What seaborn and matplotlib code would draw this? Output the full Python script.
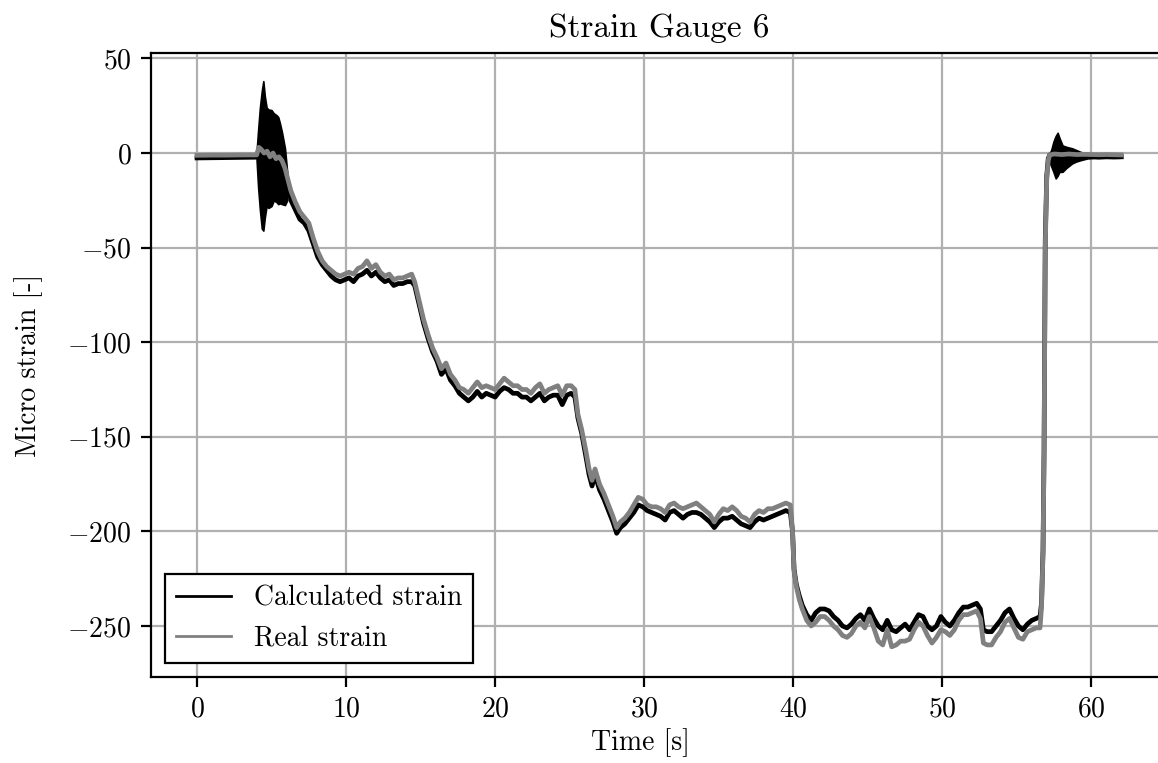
import matplotlib
matplotlib.use("Agg")
import matplotlib.pyplot as plt
import seaborn as sns
import numpy as np
import pandas as pd

# ---------------- data ----------------
time_s = [0.0, 1.0, 2.0, 3.0, 4.0,
          4.15, 4.3, 4.5, 4.7, 4.9, 5.1, 5.3, 5.5, 5.7, 5.9, 6.1,
          6.3, 6.6, 6.9, 7.2, 7.5, 7.8, 8.1, 8.4, 8.7, 9.0, 9.3, 9.6, 9.9,
          10.2, 10.5, 10.8, 11.1, 11.4, 11.7, 12.0, 12.3, 12.6, 12.9, 13.2, 13.5, 13.8, 14.1, 14.4,
          14.6, 14.9, 15.2, 15.5, 15.8, 16.1, 16.4, 16.7, 17.0, 17.3, 17.6,
          17.9, 18.2, 18.5, 18.8, 19.1, 19.4, 19.7, 20.0, 20.3, 20.6, 20.9, 21.2, 21.5, 21.8, 22.1,
          22.4, 22.7, 23.0, 23.3, 23.6, 23.9, 24.2, 24.5, 24.8, 25.1, 25.35,
          25.55, 25.8, 26.1, 26.3, 26.5, 26.7, 27.0, 27.3, 27.6, 27.9, 28.15,
          28.4, 28.7, 29.0, 29.3, 29.6, 29.9, 30.2, 30.5, 30.8, 31.1, 31.4, 31.7, 32.0, 32.3, 32.6,
          32.9, 33.2, 33.5, 33.8, 34.1, 34.4, 34.7, 35.0, 35.3, 35.6, 35.9, 36.2, 36.5, 36.8, 37.1,
          37.4, 37.7, 38.0, 38.3, 38.6, 38.9, 39.2, 39.5, 39.8,
          39.95, 40.05, 40.2, 40.4, 40.6, 40.9, 41.2,
          41.5, 41.8, 42.1, 42.4, 42.7, 43.0, 43.3, 43.6, 43.9, 44.2, 44.5, 44.8, 45.1, 45.4, 45.7,
          46.0, 46.3, 46.6, 46.9, 47.2, 47.5, 47.8, 48.1, 48.4, 48.7, 49.0, 49.3, 49.6, 49.9, 50.2,
          50.5, 50.8, 51.1, 51.4, 51.7, 52.0, 52.3, 52.55, 52.75, 53.0, 53.3, 53.6, 53.9, 54.2, 54.5,
          54.8, 55.1, 55.4, 55.7, 56.0, 56.3, 56.55,
          56.65, 56.75, 56.82, 56.9, 57.0, 57.1, 57.2,
          57.5, 58.0, 58.5, 59.0, 59.5, 60.0, 60.5, 61.0, 61.5, 62.0]

calculated_strain = [-2.6, -2.5, -2.4, -2.3, -2.2,
                     2, 1, -1, 0, -3, -1, -4, -3, -5, -9, -16,
                     -25, -30, -35, -37, -41, -48, -55, -59, -62, -65, -67, -68, -67,
                     -66, -68, -65, -64, -62, -65, -63, -66, -68, -67, -70, -69, -69, -68, -68,
                     -70, -80, -90, -98, -105, -110, -117, -114, -120, -123, -127,
                     -129, -131, -129, -126, -129, -127, -128, -129, -126, -124, -125, -127, -127, -129, -129,
                     -131, -129, -127, -131, -129, -128, -128, -133, -128, -127, -129,
                     -140, -148, -161, -170, -176, -170, -178, -183, -189, -195, -201,
                     -198, -196, -193, -190, -186, -187, -189, -190, -191, -192, -194, -190, -189, -191, -193,
                     -191, -190, -190, -191, -193, -195, -198, -195, -193, -193, -192, -194, -196, -197, -198,
                     -195, -193, -194, -193, -192, -191, -190, -189, -190,
                     -200, -220, -228, -234, -239, -244, -247,
                     -243, -241, -241, -242, -245, -247, -250, -251, -249, -246, -244, -247, -241, -246, -250,
                     -252, -247, -252, -253, -251, -249, -252, -248, -244, -245, -250, -252, -250, -245, -248,
                     -250, -247, -243, -240, -240, -239, -238, -241, -252, -253, -253, -250, -247, -243, -241,
                     -246, -250, -252, -249, -247, -246, -245,
                     -238, -210, -157, -46, -12, -3, -1,
                     -1.5, -2, -1.5, -2, -2, -2, -2.2, -2, -2.1, -2]

real_strain = [-1.2, -1.1, -1.1, -1.0, -1.0,
               3, 2, 0, 1, -2, 0, -3, -2, -4, -8, -14,
               -20, -26, -31, -34, -37, -45, -52, -57, -60, -62, -64, -65, -64,
               -63, -64, -61, -60, -57, -61, -59, -63, -65, -64, -67, -66, -66, -65, -64,
               -68, -78, -88, -96, -103, -108, -114, -111, -117, -120, -124,
               -125, -127, -124, -121, -124, -123, -124, -125, -122, -119, -121, -123, -123, -125, -125,
               -127, -124, -122, -127, -125, -124, -123, -128, -123, -123, -125,
               -138, -146, -158, -167, -173, -167, -175, -180, -186, -192, -198,
               -195, -193, -190, -186, -182, -183, -186, -187, -187, -188, -190, -186, -185, -187, -188,
               -187, -186, -185, -187, -189, -191, -195, -191, -188, -189, -187, -189, -192, -193, -195,
               -191, -189, -190, -188, -188, -187, -186, -185, -186,
               -200, -221, -229, -236, -241, -247, -250,
               -248, -245, -245, -247, -250, -252, -255, -256, -254, -250, -248, -251, -245, -251, -258,
               -260, -252, -261, -260, -258, -258, -257, -252, -248, -250, -255, -259, -256, -252, -253,
               -255, -252, -247, -244, -244, -243, -242, -246, -259, -260, -260, -256, -253, -248, -246,
               -251, -256, -257, -253, -252, -251, -251,
               -240, -212, -160, -50, -14, -4, -1,
               -0.5, -0.8, -0.5, -0.8, -0.7, -0.8, -0.9, -0.8, -0.9, -1.0]

# envelopes of the high-frequency oscillation of the calculated strain
osc1_t = [4.0, 4.1, 4.22, 4.35, 4.45, 4.55, 4.67, 4.8, 5.0, 5.15, 5.34, 5.45, 5.56, 5.7, 5.9, 6.05]
osc1_hi = [1, 12, 24, 33, 38, 30, 24, 23, 22.7, 21, 20, 19, 15.8, 11, 2.6, -10]
osc1_lo = [-4, -18, -30, -40, -41, -34, -28, -29, -28, -25, -26, -27, -26.6, -27, -27.5, -25]

osc2_t = [57.15, 57.3, 57.45, 57.6, 57.73, 57.85, 58.06, 58.3, 58.7, 58.97, 59.3, 59.75, 60.2, 61.0, 61.9]
osc2_hi = [-1, 1.6, 6, 9, 10.7, 8, 4, 3.3, 2.5, 1.6, 0.5, 0, -0.8, -1, -1]
osc2_lo = [-4, -7, -10, -13.4, -12, -10, -9.9, -8, -5.5, -4.5, -3.7, -2.8, -2.5, -2.5, -2.5]

x_ticks = [0, 10, 20, 30, 40, 50, 60]
y_ticks = [50, 0, -50, -100, -150, -200, -250]

# ---------------- style ----------------
plt.rcParams.update({
    "font.family": "serif",
    "font.serif": ["cmr10"],
    "mathtext.fontset": "cm",
    "axes.formatter.use_mathtext": True,
    "axes.unicode_minus": True,
    "font.size": 10,
})

df = pd.DataFrame({"time": time_s, "calc": calculated_strain, "real": real_strain})

fig = plt.figure(figsize=(5.79, 3.815), dpi=200)
ax = fig.add_axes([0.1302, 0.1131, 0.878, 0.817])

ax.fill_between(osc1_t, osc1_lo, osc1_hi, color="black", lw=0.6, zorder=2)
ax.fill_between(osc2_t, osc2_lo, osc2_hi, color="black", lw=0.6, zorder=2)
sns.lineplot(data=df, x="time", y="calc", color="black", lw=1.7, ax=ax,
             label="Calculated strain", sort=False, zorder=3)
sns.lineplot(data=df, x="time", y="real", color="grey", lw=1.7, ax=ax,
             label="Real strain", sort=False, zorder=4)

ax.set_xlim(-3.1, 65.1)
ax.set_ylim(-276.8, 52.7)
ax.set_xticks(x_ticks)
ax.set_yticks(y_ticks)
ax.grid(True, color="#b0b0b0", lw=0.8)
ax.set_axisbelow(True)
ax.set_xlabel("Time [s]")
ax.xaxis.set_label_coords(0.482, -0.083)
ax.set_ylabel("Micro strain [-]")
ax.yaxis.set_label_coords(-0.106, 0.5)
ax.set_title("Strain Gauge 6", fontsize=12)

leg = ax.legend(loc="lower left", fancybox=False, edgecolor="black", framealpha=1)
leg.get_frame().set_linewidth(0.8)
for line in leg.get_lines():
    line.set_linewidth(1.0)

fig.savefig("out.png", dpi=200)
